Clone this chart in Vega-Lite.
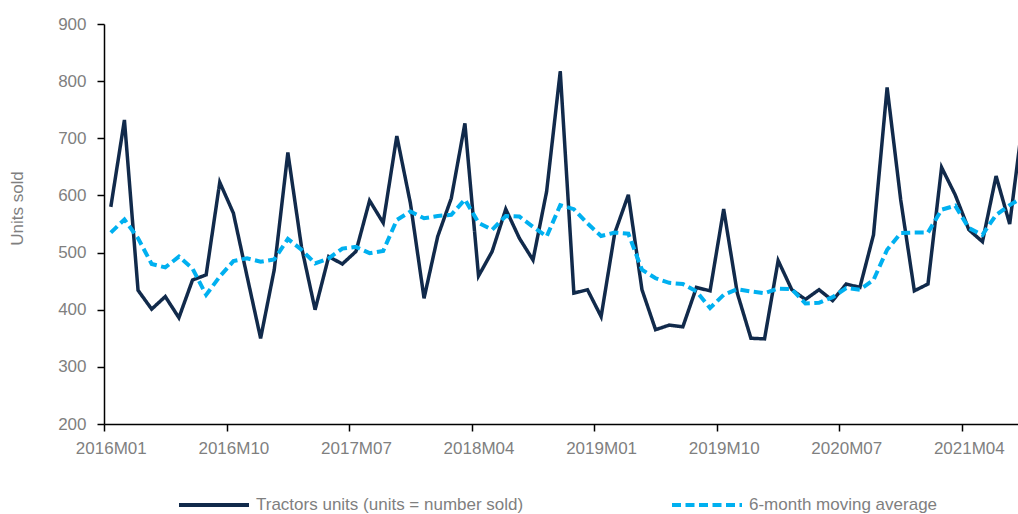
{
  "$schema": "https://vega.github.io/schema/vega-lite/v6.json",
  "width": 914,
  "height": 400,
  "autosize": {"type": "none"},
  "padding": {"left": 104, "top": 24, "right": 0, "bottom": 90},
  "background": "white",
  "config": {
    "view": {"stroke": null},
    "font": "Liberation Sans",
    "axis": {
      "domainColor": "#000000",
      "domainWidth": 1.5,
      "tickColor": "#000000",
      "tickWidth": 1.5,
      "tickSize": 7,
      "labelColor": "#7f7f7f",
      "labelFont": "Liberation Sans",
      "labelFontSize": 17,
      "titleColor": "#7f7f7f",
      "titleFont": "Liberation Sans",
      "titleFontSize": 17,
      "titleFontWeight": "normal",
      "grid": false,
      "labelFlush": false,
      "labelOverlap": false,
      "labelBound": false
    }
  },
  "data": {
    "values": [
      {"t": 0, "month": "2016M01", "units": 580, "ma6": 535},
      {"t": 1, "month": "2016M02", "units": 732, "ma6": 558},
      {"t": 2, "month": "2016M03", "units": 434, "ma6": 525},
      {"t": 3, "month": "2016M04", "units": 401, "ma6": 480},
      {"t": 4, "month": "2016M05", "units": 423, "ma6": 474},
      {"t": 5, "month": "2016M06", "units": 386, "ma6": 493},
      {"t": 6, "month": "2016M07", "units": 452, "ma6": 472},
      {"t": 7, "month": "2016M08", "units": 461, "ma6": 426},
      {"t": 8, "month": "2016M09", "units": 623, "ma6": 458},
      {"t": 9, "month": "2016M10", "units": 569, "ma6": 485},
      {"t": 10, "month": "2016M11", "units": 459, "ma6": 490},
      {"t": 11, "month": "2016M12", "units": 350, "ma6": 484},
      {"t": 12, "month": "2017M01", "units": 470, "ma6": 488},
      {"t": 13, "month": "2017M02", "units": 675, "ma6": 524},
      {"t": 14, "month": "2017M03", "units": 510, "ma6": 505},
      {"t": 15, "month": "2017M04", "units": 400, "ma6": 481},
      {"t": 16, "month": "2017M05", "units": 493, "ma6": 490},
      {"t": 17, "month": "2017M06", "units": 480, "ma6": 507},
      {"t": 18, "month": "2017M07", "units": 502, "ma6": 510},
      {"t": 19, "month": "2017M08", "units": 591, "ma6": 499},
      {"t": 20, "month": "2017M09", "units": 552, "ma6": 503},
      {"t": 21, "month": "2017M10", "units": 704, "ma6": 557},
      {"t": 22, "month": "2017M11", "units": 586, "ma6": 572},
      {"t": 23, "month": "2017M12", "units": 420, "ma6": 560},
      {"t": 24, "month": "2018M01", "units": 528, "ma6": 564},
      {"t": 25, "month": "2018M02", "units": 595, "ma6": 566},
      {"t": 26, "month": "2018M03", "units": 726, "ma6": 593},
      {"t": 27, "month": "2018M04", "units": 459, "ma6": 552},
      {"t": 28, "month": "2018M05", "units": 502, "ma6": 540},
      {"t": 29, "month": "2018M06", "units": 576, "ma6": 564},
      {"t": 30, "month": "2018M07", "units": 525, "ma6": 563},
      {"t": 31, "month": "2018M08", "units": 487, "ma6": 545},
      {"t": 32, "month": "2018M09", "units": 607, "ma6": 528},
      {"t": 33, "month": "2018M10", "units": 817, "ma6": 583},
      {"t": 34, "month": "2018M11", "units": 429, "ma6": 576},
      {"t": 35, "month": "2018M12", "units": 435, "ma6": 551},
      {"t": 36, "month": "2019M01", "units": 388, "ma6": 529},
      {"t": 37, "month": "2019M02", "units": 534, "ma6": 535},
      {"t": 38, "month": "2019M03", "units": 601, "ma6": 533},
      {"t": 39, "month": "2019M04", "units": 435, "ma6": 470},
      {"t": 40, "month": "2019M05", "units": 365, "ma6": 455},
      {"t": 41, "month": "2019M06", "units": 373, "ma6": 447},
      {"t": 42, "month": "2019M07", "units": 370, "ma6": 445},
      {"t": 43, "month": "2019M08", "units": 439, "ma6": 432},
      {"t": 44, "month": "2019M09", "units": 433, "ma6": 403},
      {"t": 45, "month": "2019M10", "units": 576, "ma6": 426},
      {"t": 46, "month": "2019M11", "units": 429, "ma6": 436},
      {"t": 47, "month": "2019M12", "units": 350, "ma6": 432},
      {"t": 48, "month": "2020M01", "units": 349, "ma6": 429},
      {"t": 49, "month": "2020M02", "units": 486, "ma6": 437},
      {"t": 50, "month": "2020M03", "units": 435, "ma6": 436},
      {"t": 51, "month": "2020M04", "units": 418, "ma6": 411},
      {"t": 52, "month": "2020M05", "units": 435, "ma6": 412},
      {"t": 53, "month": "2020M06", "units": 416, "ma6": 422},
      {"t": 54, "month": "2020M07", "units": 445, "ma6": 438},
      {"t": 55, "month": "2020M08", "units": 439, "ma6": 435},
      {"t": 56, "month": "2020M09", "units": 531, "ma6": 452},
      {"t": 57, "month": "2020M10", "units": 789, "ma6": 505},
      {"t": 58, "month": "2020M11", "units": 592, "ma6": 534},
      {"t": 59, "month": "2020M12", "units": 433, "ma6": 535},
      {"t": 60, "month": "2021M01", "units": 445, "ma6": 535},
      {"t": 61, "month": "2021M02", "units": 649, "ma6": 575},
      {"t": 62, "month": "2021M03", "units": 601, "ma6": 582},
      {"t": 63, "month": "2021M04", "units": 540, "ma6": 543},
      {"t": 64, "month": "2021M05", "units": 519, "ma6": 531},
      {"t": 65, "month": "2021M06", "units": 634, "ma6": 566},
      {"t": 66, "month": "2021M07", "units": 550, "ma6": 583},
      {"t": 67, "month": "2021M08", "units": 738, "ma6": 597}
    ]
  },
  "encoding": {
    "x": {
      "field": "t",
      "type": "quantitative",
      "scale": {"domain": [-0.5, 66.61], "nice": false, "zero": false},
      "axis": {
        "title": null,
        "values": [-0.5, 8.5, 17.5, 26.5, 35.5, 44.5, 53.5, 62.5],
        "labelExpr": "(2016 + floor((datum.value + 0.5) / 12)) + 'M' + (((datum.value + 0.5) % 12) < 9 ? '0' : '') + (((datum.value + 0.5) % 12) + 1)",
        "labelOffset": 6.8,
        "labelPadding": 9
      }
    }
  },
  "layer": [
    {
      "mark": {"type": "line", "strokeWidth": 3.5, "clip": true, "strokeJoin": "miter"},
      "encoding": {
        "y": {
          "field": "units",
          "type": "quantitative",
          "scale": {"domain": [200, 900], "nice": false, "zero": false},
          "axis": {
            "title": "Units sold",
            "values": [200, 300, 400, 500, 600, 700, 800, 900],
            "labelPadding": 11,
            "titleX": -87,
            "titleY": 184,
            "titleAngle": -90,
            "titleAlign": "center",
            "titleBaseline": "middle"
          }
        },
        "color": {
          "datum": "Tractors units (units = number sold)",
          "scale": {
            "domain": ["Tractors units (units = number sold)", "6-month moving average"],
            "range": ["#112a4b", "#00b0f0"]
          },
          "legend": {
            "orient": "none",
            "legendX": 73,
            "legendY": 444,
            "direction": "horizontal",
            "symbolType": "stroke",
            "symbolSize": 4900,
            "symbolStrokeWidth": 4,
            "labelFont": "Liberation Sans",
            "labelFontSize": 17,
            "labelColor": "#7f7f7f",
            "labelOffset": 5,
            "columnPadding": 140,
            "labelLimit": 600,
            "title": null,
            "padding": 0
          }
        },
        "strokeDash": {
          "datum": "Tractors units (units = number sold)",
          "scale": {
            "domain": ["Tractors units (units = number sold)", "6-month moving average"],
            "range": [[1, 0], [9, 4.5]]
          },
          "legend": {
            "orient": "none",
            "legendX": 73,
            "legendY": 444,
            "direction": "horizontal",
            "symbolType": "stroke",
            "symbolSize": 4900,
            "symbolStrokeWidth": 4,
            "labelFont": "Liberation Sans",
            "labelFontSize": 17,
            "labelColor": "#7f7f7f",
            "labelOffset": 5,
            "columnPadding": 140,
            "labelLimit": 600,
            "title": null,
            "padding": 0
          }
        }
      }
    },
    {
      "mark": {"type": "line", "strokeWidth": 4, "clip": true},
      "encoding": {
        "y": {
          "field": "ma6",
          "type": "quantitative",
          "axis": {"title": "Units sold"}
        },
        "color": {"datum": "6-month moving average"},
        "strokeDash": {"datum": "6-month moving average"}
      }
    }
  ]
}
